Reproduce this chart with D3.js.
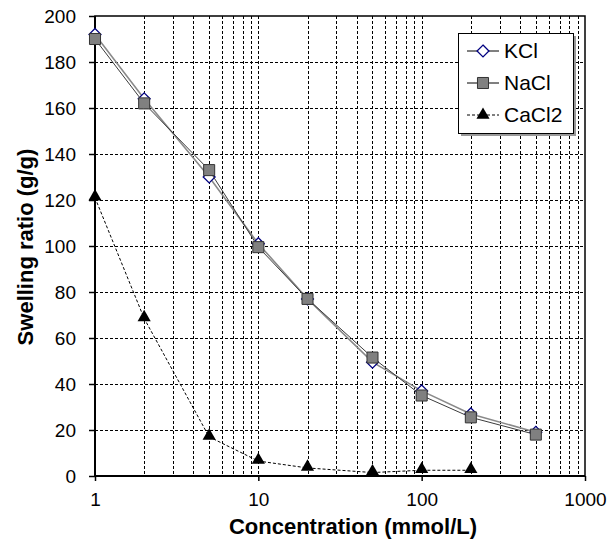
<!DOCTYPE html>
<meta charset="utf-8">
<style>
body{
	margin:0;
	background:#fff;
	font-family:"Liberation Sans", Arial, sans-serif;
}
.grid line{
	stroke:#000;
	stroke-width:1;
	stroke-dasharray:3,2;
	shape-rendering:crispEdges;
}
.tick-label{
	font-size:19px;
	fill:#000;
}
.title{
	font-size:22px;
	font-weight:bold;
	text-anchor:middle;
}
</style>
<body>
<script src="https://d3js.org/d3.v7.min.js"></script>
<script>
// concentrations (mmol/L)
var conc = [1, 2, 5, 10, 20, 50, 100, 200, 500];
var concCa = [1, 2, 5, 10, 20, 50, 100, 200];
// swelling ratio (g/g)
var kcl  = [192, 164, 130, 101, 77, 49.5, 37, 27, 19];
var nacl = [190, 162, 133, 99.5, 77, 51.5, 35, 25.5, 18];
var cacl2 = [121, 68.5, 17, 6.5, 3.5, 1.5, 2.5, 2.5];
var yTicks = [0, 20, 40, 60, 80, 100, 120, 140, 160, 180, 200];
var xTicks = [1, 10, 100, 1000];
var seriesNames = ["KCl", "NaCl", "CaCl2"];

var W = 616, H = 540;
var svg = d3.select("body").append("svg").attr("width", W).attr("height", H);

var x = d3.scaleLog().domain([1, 1000]).range([95, 585]);
var y = d3.scaleLinear().domain([0, 200]).range([476, 16]);

// grid
var grid = svg.append("g").attr("class","grid");
var minor = x.ticks().filter(function(d){ return d > 1 && d < 1000; });
grid.selectAll(".v").data(minor).enter().append("line")
	.attr("x1", d=>Math.round(x(d))+0.5).attr("x2", d=>Math.round(x(d))+0.5)
	.attr("y1", y(200)).attr("y2", y(0));
grid.selectAll(".h").data(yTicks.filter(d=>d>0 && d<200)).enter().append("line")
	.attr("x1", x(1)).attr("x2", x(1000))
	.attr("y1", d=>Math.round(y(d))+0.5).attr("y2", d=>Math.round(y(d))+0.5);

// frame
svg.append("rect").attr("x", x(1)).attr("y", y(200))
	.attr("width", x(1000)-x(1)).attr("height", y(0)-y(200))
	.attr("fill","none").attr("stroke","#000").attr("stroke-width",1.5);

// axes
var yAxis = d3.axisLeft(y).tickValues(yTicks).tickSize(6).tickPadding(13).tickFormat(d3.format("d"));
var gy = svg.append("g").attr("transform","translate("+x(1)+",0)").call(yAxis);
var xAxis = d3.axisBottom(x).tickValues(xTicks).tickSize(5).tickPadding(12).tickFormat(d3.format("d"));
var gx = svg.append("g").attr("transform","translate(0,"+y(0)+")").call(xAxis);
[gx, gy].forEach(function(g){
	g.select(".domain").attr("stroke","#000").attr("stroke-width",2);
	g.selectAll(".tick line").attr("stroke","#000").attr("stroke-width",1.5);
	g.selectAll(".tick text").attr("class","tick-label").attr("font-family",null).attr("font-size",null);
});
gy.select(".domain").attr("d","M0,"+y(200)+"V"+(y(0)+1));
gx.select(".domain").attr("d","M"+(x(1)-1)+",0H"+x(1000));

// titles
svg.append("text").attr("class","title").attr("x",353).attr("y",534).text("Concentration (mmol/L)");
svg.append("text").attr("class","title").attr("transform","translate(33,247) rotate(-90)").text("Swelling ratio (g/g)");

// series
var line = d3.line().x(d=>x(d[0])).y(d=>y(d[1]));
var kclPts = conc.map((c,i)=>[c, kcl[i]]);
var naclPts = conc.map((c,i)=>[c, nacl[i]]);
var caPts = concCa.map((c,i)=>[c, cacl2[i]]);

var diamond = d3.symbol().type(d3.symbolDiamond2).size(90);
var square = d3.symbol().type(d3.symbolSquare2).size(155);
var triangle = d3.symbol().type(d3.symbolTriangle).size(75);

svg.append("path").datum(kclPts).attr("d",line).attr("fill","none").attr("stroke","#8a8a8a").attr("stroke-width",1.6);
svg.selectAll(".kcl").data(kclPts).enter().append("path")
	.attr("transform",d=>"translate("+x(d[0])+","+y(d[1])+")")
	.attr("d",diamond).attr("fill","#fff").attr("stroke","#000080").attr("stroke-width",1.3);

svg.append("path").datum(naclPts).attr("d",line).attr("fill","none").attr("stroke","#3c3c3c").attr("stroke-width",1);
svg.selectAll(".nacl").data(naclPts).enter().append("path")
	.attr("transform",d=>"translate("+x(d[0])+","+y(d[1])+")")
	.attr("d",square).attr("fill","#808080").attr("stroke","#333").attr("stroke-width",1);

svg.append("path").datum(caPts).attr("d",line).attr("fill","none").attr("stroke","#000").attr("stroke-width",1).attr("stroke-dasharray","3,2");
svg.selectAll(".ca").data(caPts).enter().append("path")
	.attr("transform",d=>"translate("+x(d[0])+","+(y(d[1])-1)+")")
	.attr("d",triangle).attr("fill","#000");

// legend
var lg = svg.append("g").attr("transform","translate(458,33)");
lg.append("rect").attr("x",3).attr("y",3).attr("width",115).attr("height",100).attr("fill","#999");
lg.append("rect").attr("x",0.5).attr("y",0.5).attr("width",115).attr("height",100).attr("fill","#fff").attr("stroke","#000").attr("stroke-width",1);
var rows = lg.selectAll(".row").data(seriesNames).enter().append("g")
	.attr("transform",(d,i)=>"translate(0,"+(18+i*32)+")");
rows.append("line").attr("x1",9).attr("x2",41).attr("y1",0).attr("y2",0)
	.attr("stroke","#000").attr("stroke-width",1)
	.attr("stroke-dasharray",(d,i)=>i==2?"3,2":null);
rows.append("path").attr("transform","translate(25,0)")
	.attr("d",(d,i)=>i==0?diamond():i==1?square():triangle())
	.attr("fill",(d,i)=>i==0?"#fff":i==1?"#808080":"#000")
	.attr("stroke",(d,i)=>i==0?"#000080":i==1?"#333":"none")
	.attr("stroke-width",(d,i)=>i==0?1.3:1);
rows.append("text").attr("x",46).attr("y",7).attr("font-size","21px").text(d=>d);
</script>
</body>
</html>
